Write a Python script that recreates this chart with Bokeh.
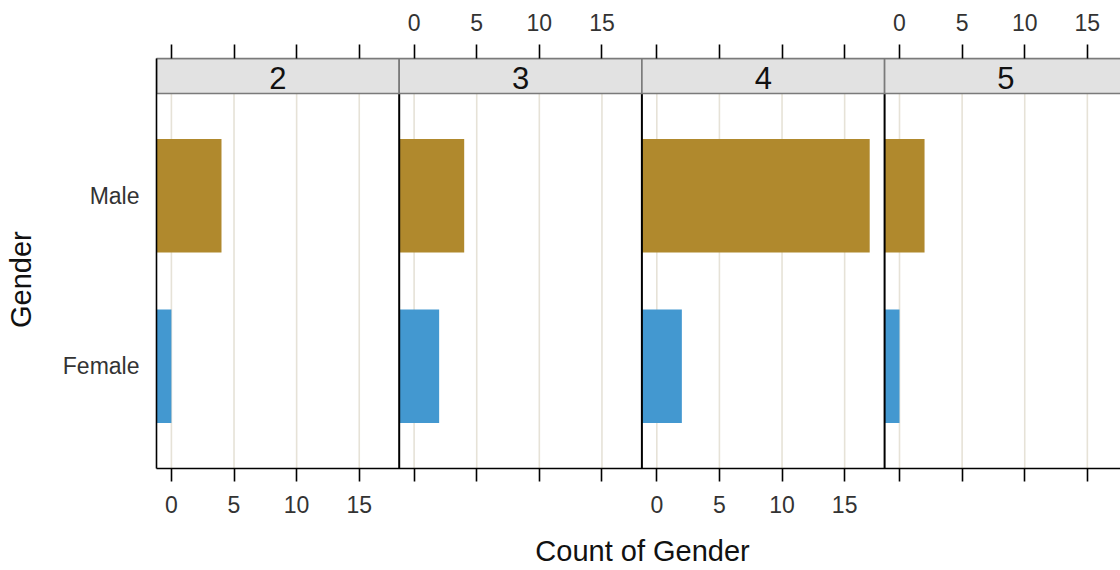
from bokeh.plotting import figure
from bokeh.models import Range1d, FixedTicker, CustomJSTickFormatter, LinearAxis
from bokeh.embed import file_html
from bokeh.resources import INLINE
from bokeh.core.properties import value

# ---- data ----
groups = ["2", "3", "4", "5"]
genders = ["Female", "Male"]
female_counts = [0, 2, 2, 0]
male_counts = [4, 4, 17, 2]
x_ticks = [0, 5, 10, 15]

MALE_COLOR = "#B0892D"
FEMALE_COLOR = "#4398D0"
FONT = "Liberation Sans"
NB = "\u00A0"

# ---- panel geometry (lattice-like limits: 7% padding) ----
mx = max(max(female_counts), max(male_counts))
pad = 0.07 * mx
xlo, xhi = -pad, mx + pad
W = xhi - xlo

panel_px = 242.7
px_per_unit = panel_px / W
FIG_W, FIG_H = 1120, 570
B_LEFT, B_TOP, B_BOTTOM = 156, 58, 102
frame_w = FIG_W - B_LEFT

y_lo, y_data_hi = 0.4, 2.6
strip_h = 35 / (375 / 2.2)
y_hi = y_data_hi + strip_h

p = figure(width=FIG_W, height=FIG_H, output_backend="svg", toolbar_location=None,
           x_range=Range1d(xlo, xlo + frame_w / px_per_unit),
           y_range=Range1d(y_lo, y_hi),
           min_border_left=B_LEFT, min_border_right=0,
           min_border_top=B_TOP, min_border_bottom=B_BOTTOM,
           x_axis_location=None, y_axis_location="left")
p.grid.visible = False
p.outline_line_color = None
p.background_fill_color = "white"
p.border_fill_color = "white"

offsets = [i * W for i in range(len(groups))]

# grid lines (data area only)
gx = [o + t for o in offsets for t in x_ticks]
p.segment(x0=gx, y0=[y_lo] * len(gx), x1=gx, y1=[y_data_hi] * len(gx),
          line_color="#E6E2D7", line_width=1.6)

# bars
bh = 2.0 / 3.0
lefts, rights, bottoms, tops, colors = [], [], [], [], []
for o, f, m in zip(offsets, female_counts, male_counts):
    for yi, val, col in ((1, f, FEMALE_COLOR), (2, m, MALE_COLOR)):
        lefts.append(o + xlo)
        rights.append(o + val)
        bottoms.append(yi - bh / 2)
        tops.append(yi + bh / 2)
        colors.append(col)
p.quad(left=lefts, right=rights, bottom=bottoms, top=tops,
       fill_color=colors, line_color=None)

# panel separators
sep = [o + xlo for o in offsets[1:]]
p.segment(x0=sep, y0=[y_lo] * len(sep), x1=sep, y1=[y_data_hi] * len(sep),
          line_color="black", line_width=2)

# strips
p.quad(left=[o + xlo for o in offsets], right=[o + xhi for o in offsets],
       bottom=[y_data_hi] * len(offsets), top=[y_hi] * len(offsets),
       fill_color="#E2E2E2", line_color="#7A7A7A", line_width=1.6)
p.text(x=[o + (xlo + xhi) / 2 for o in offsets],
       y=[(y_data_hi + y_hi) / 2] * len(offsets), text=groups,
       text_align="center", text_baseline="middle", y_offset=2,
       text_font=value(FONT), text_font_size="31px", text_color="#111111")

# x axes: alternate labels bottom/top like lattice
ticks = [o + t for o in offsets for t in x_ticks]

def fmt(parity):
    return CustomJSTickFormatter(code=f"""
const W = {W}; const lo = {xlo};
const i = Math.floor((tick - lo) / W + 1e-9);
const v = Math.round(tick - i * W);
return (i % 2 === {parity}) ? String(v) : '';
""")

def style_x(ax):
    ax.major_tick_out = 13
    ax.major_tick_in = 0
    ax.minor_tick_line_color = None
    ax.major_tick_line_color = "black"
    ax.major_tick_line_width = 1.6
    ax.major_label_text_font = FONT
    ax.major_label_text_font_size = "23px"
    ax.major_label_text_color = "#333333"

below = LinearAxis(ticker=FixedTicker(ticks=ticks), formatter=fmt(0),
                   axis_label=NB + "Count of Gender")
style_x(below)
below.axis_line_color = "black"
below.axis_line_width = 1.6
below.major_label_standoff = 14
below.axis_label_standoff = 19
below.axis_label_text_font = FONT
below.axis_label_text_font_size = "29px"
below.axis_label_text_font_style = "normal"
below.axis_label_text_color = "#111111"
p.add_layout(below, "below")

above = LinearAxis(ticker=FixedTicker(ticks=ticks), formatter=fmt(1))
style_x(above)
above.major_tick_out = 14
above.axis_line_color = "#7A7A7A"
above.axis_line_width = 1.6
above.major_label_standoff = 14
p.add_layout(above, "above")

# y axis
ya = p.yaxis[0]
ya.ticker = FixedTicker(ticks=[i + 1 for i in range(len(genders))])
ya.major_label_overrides = {i + 1: g for i, g in enumerate(genders)}
ya.major_tick_out = 0
ya.major_tick_in = 0
ya.minor_tick_line_color = None
ya.axis_line_color = "black"
ya.axis_line_width = 1.6
ya.major_label_standoff = 17
ya.major_label_text_font = FONT
ya.major_label_text_font_size = "23px"
ya.major_label_text_color = "#333333"
ya.axis_label = "Gender" + NB * 4
ya.axis_label_standoff = 23
ya.axis_label_text_font = FONT
ya.axis_label_text_font_size = "29px"
ya.axis_label_text_font_style = "normal"
ya.axis_label_text_color = "#111111"

open("out.html", "w").write(file_html(p, INLINE))
